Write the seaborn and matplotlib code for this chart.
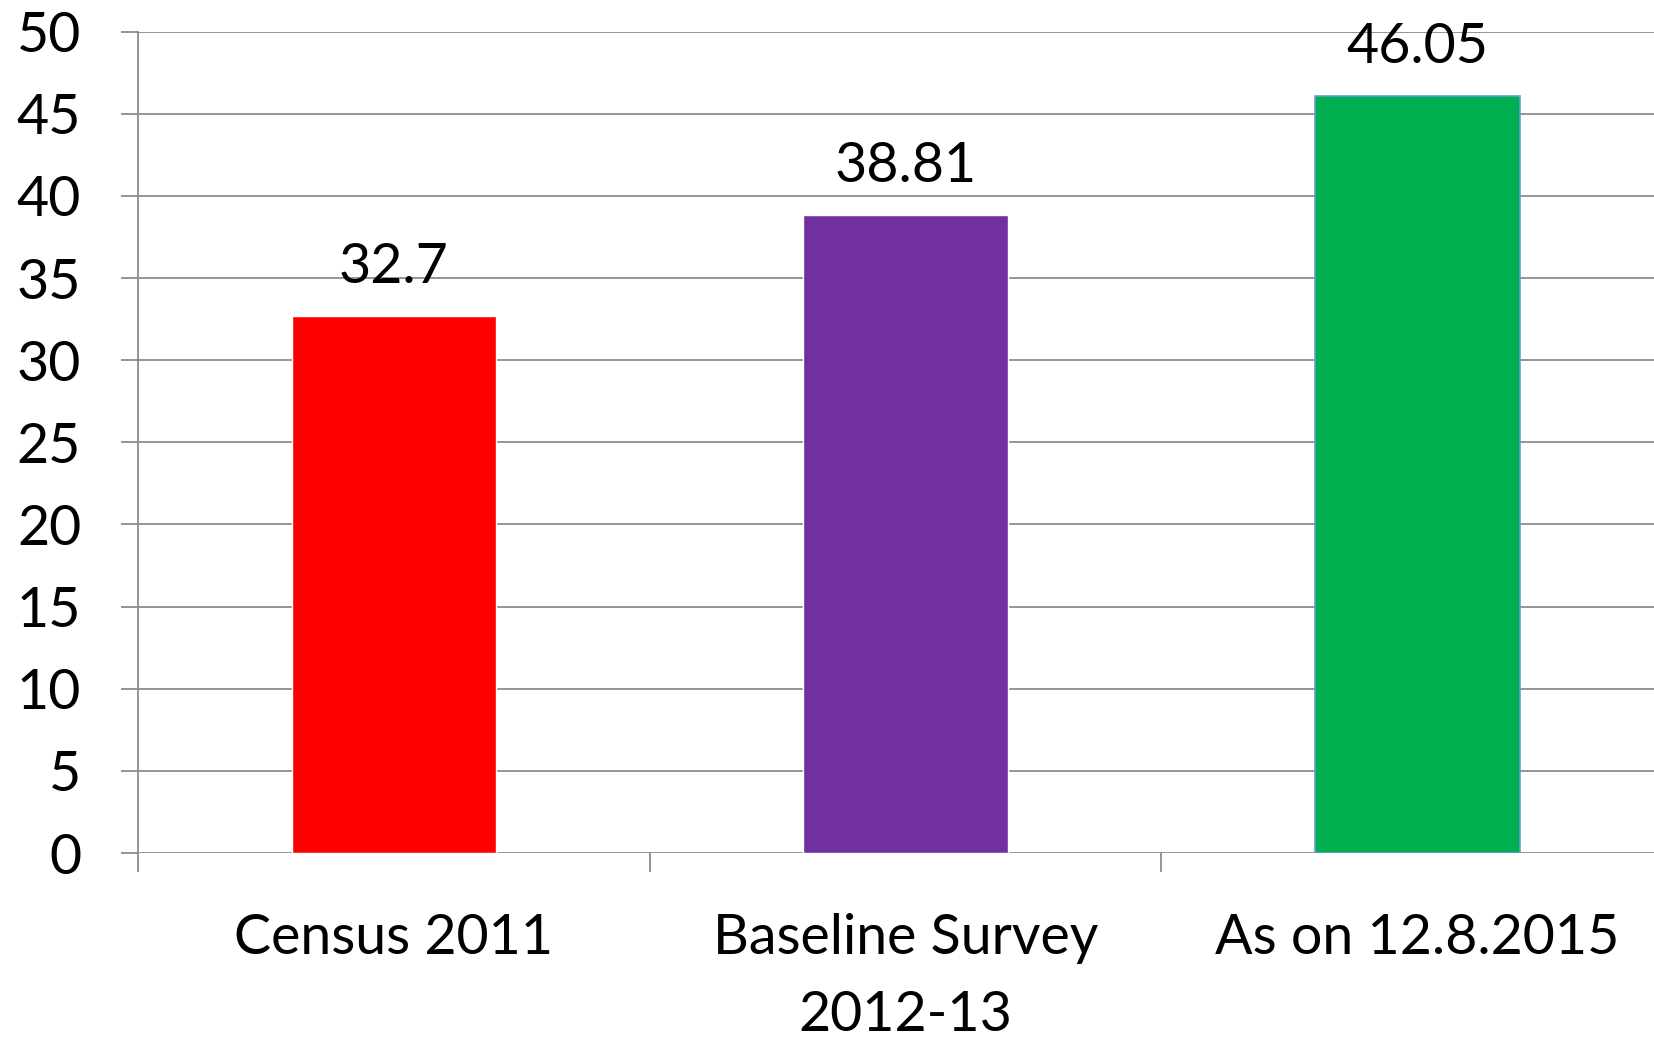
import matplotlib
matplotlib.use('Agg')
import matplotlib.pyplot as plt
import seaborn as sns
import pandas as pd

# data
categories = ['Census 2011', 'Baseline Survey\n2012-13', 'As on 12.8.2015']
values = [32.7, 38.81, 46.05]
value_labels = ['32.7', '38.81', '46.05']
colors = ['#FF0000', '#7030A0', '#00B050']
yticks = [0, 5, 10, 15, 20, 25, 30, 35, 40, 45, 50]

sns.set_style('white')
plt.rcParams['font.family'] = ['Lato', 'DejaVu Sans']
plt.rcParams['text.color'] = 'black'
plt.rcParams['xtick.labelcolor'] = 'black'
plt.rcParams['ytick.labelcolor'] = 'black'

df = pd.DataFrame({'cat': categories, 'val': values})

fig = plt.figure(figsize=(16.54, 10.39), dpi=100)
ax = fig.add_axes([0.0835, 0.179, 1.0115 - 0.0835, 0.9696 - 0.179])

sns.barplot(data=df, x='cat', y='val', hue='cat', palette=colors, width=0.4,
            legend=False, ax=ax, saturation=1, zorder=3)
# thin bluish edge on the last bar like the original
ax.patches[2].set_edgecolor('#6C9BD2')
ax.patches[2].set_linewidth(1.2)

ax.set_ylim(0, 50)
ax.set_xlim(-0.5, 2.5)
ax.set_yticks(yticks)
ax.yaxis.grid(True, color='#8C8C8C', linewidth=1.3, zorder=0)
ax.set_axisbelow(True)
ax.set_xlabel('')
ax.set_ylabel('')

for s in ['top', 'right', 'bottom']:
    ax.spines[s].set_visible(False)
ax.spines['left'].set_color('#8C8C8C')
ax.spines['left'].set_linewidth(1.3)

ax.tick_params(axis='y', length=12, width=1.3, color='#8C8C8C', labelsize=40, pad=29, left=True)
ax.set_xticks([0, 1, 2])
ax.set_xticklabels(categories, fontsize=40, linespacing=1.65)
ax.set_xticks([-0.5, 0.5, 1.5, 2.5], minor=True)
ax.tick_params(axis='x', which='major', length=0, pad=43)
ax.tick_params(axis='x', which='minor', length=14, width=1.3, color='#8C8C8C', bottom=True)

for i, v in enumerate(values):
    ax.text(i, v + 1.4, value_labels[i], ha='center', va='bottom', fontsize=40)

fig.savefig('out.png', dpi=100)
